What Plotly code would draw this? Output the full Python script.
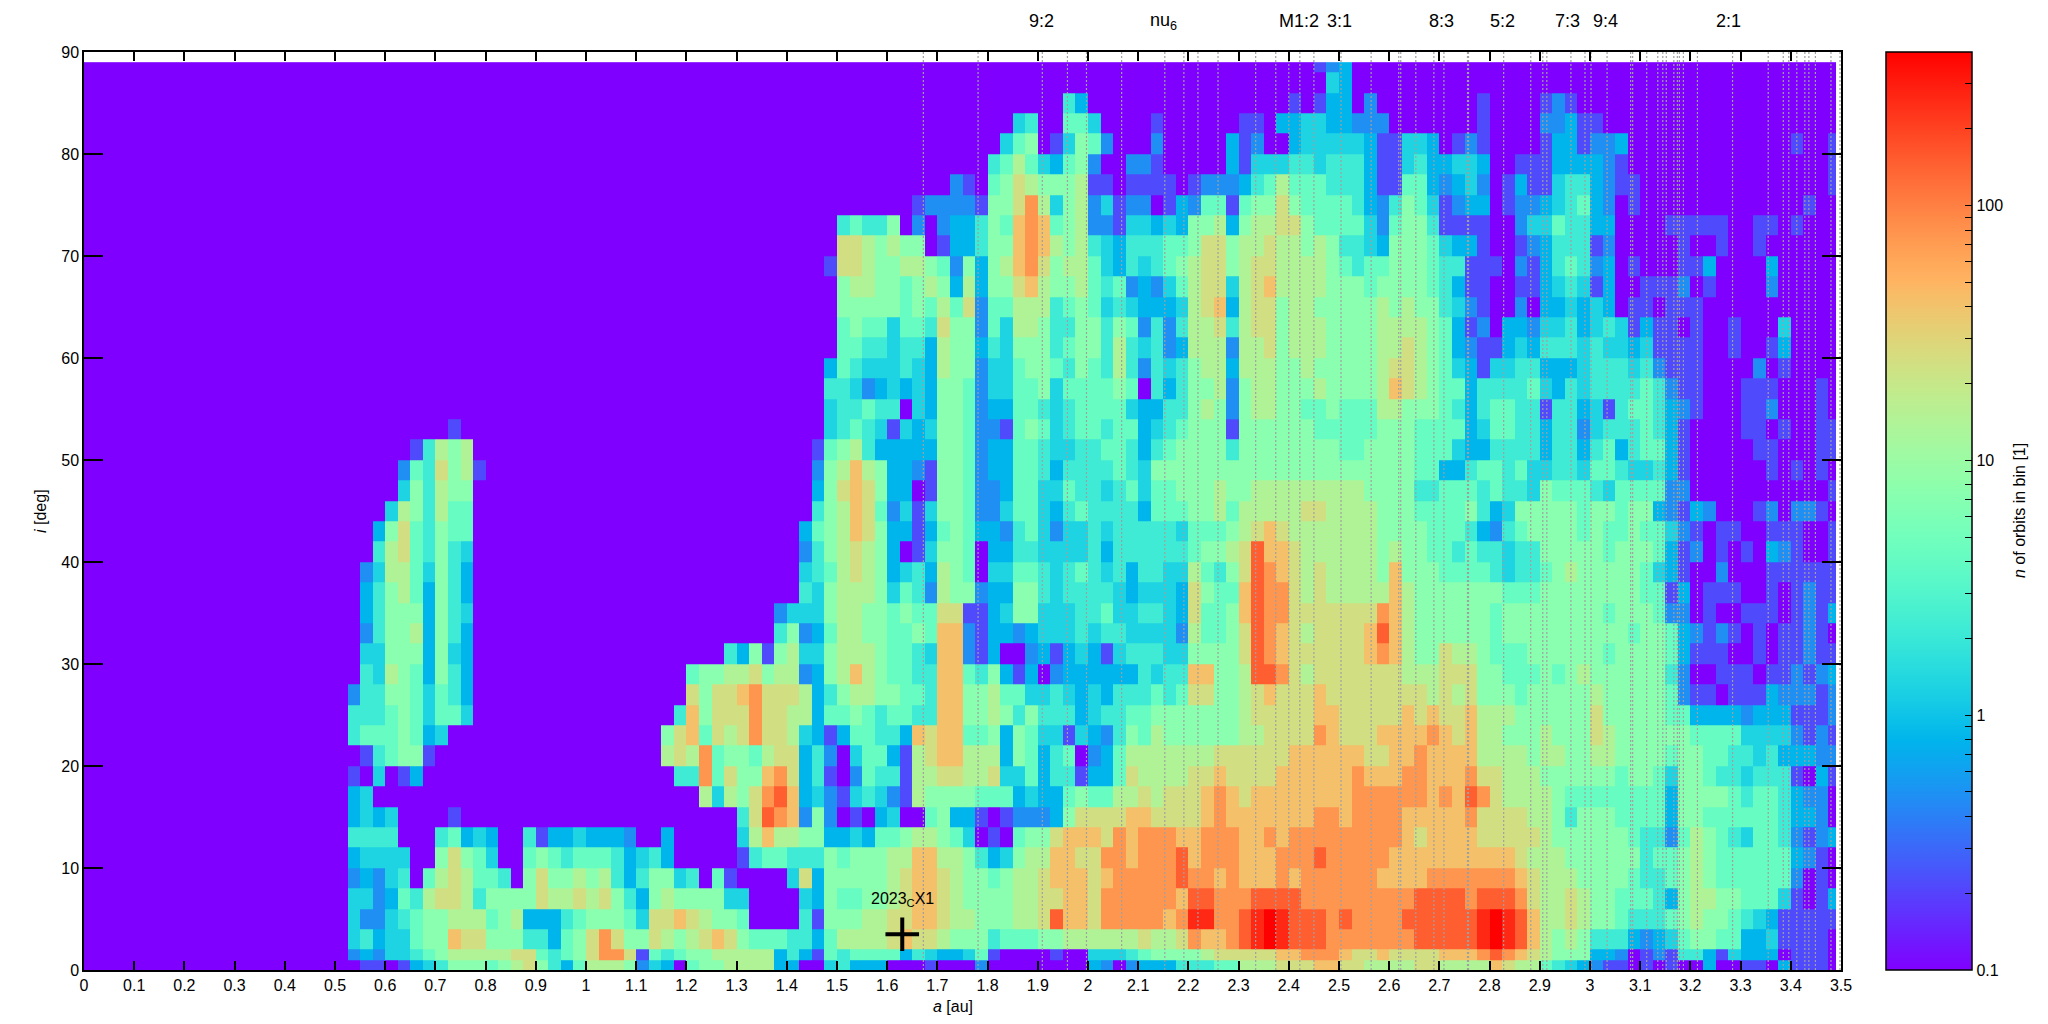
import math
import plotly.graph_objects as go

# Each row: 30 groups of 4 cells (0.025 au per cell) from a=0.5 to a=3.5, "." = empty group.
# Characters are count levels, see LEVEL_COUNTS. Rows run from the top of the chart down.
LEVEL_COUNTS = {"0": 0.1, "1": 0.22, "2": 0.48, "3": 0.8, "4": 1.3, "5": 2.2, "6": 4.2, "7": 7.4,
                "8": 14, "9": 24, "a": 42, "b": 76, "c": 148, "d": 263, "e": 400}
INCLINATION_EDGES = [0, 1, 2] + list(range(4, 90, 2)) + [89]
ROWS_TOP_DOWN = [
". . . . . . . . . . . . . . . . . . . 0012 3000 . . . . . . . . .",
". . . . . . . . . . . . . . . . . . . 0004 3000 . . . . . . . . .",
". . . . . . . . . . . . . . 0053 . . . . 1013 3020 . 0001 . 1210 . . . . .",
". . . . . . . . . . . . . 0045 0066 4000 0100 . 1103 3443 3222 . 0001 . 2231 1000 . . . .",
". . . . . . . . . . . . . 0467 0147 6200 0200 0003 1200 3444 4431 1443 0121 . 1331 2230 . . . 1001",
". . . . . . . . . . . . . 5686 4367 2002 2100 0003 1444 5545 5531 1453 3443 0011 1333 3210 . . . 0001",
". . . . . . . . . . . . 0210 6798 7778 1101 1110 1222 3568 6665 5531 1663 2342 0131 1455 3211 . . . 0001",
". . . . . . . . . . . 0012 2221 779b 8478 2412 2013 2661 6779 7666 6532 5764 1233 0122 3456 3201 . . . 0100",
". . . . . . . . . . 5655 7020 2335 76ab a678 2214 4343 7783 7889 9766 6642 6775 1111 0024 4655 3300 0011 1110 0110 1000",
". . . . . . . . . . 9987 8770 1335 77ab a878 5435 5566 7997 8898 8787 5543 7776 4331 0012 3555 1200 0001 0010 0100 .",
". . . . . . . . . 0001 9987 7887 6273 78ab 9788 6435 4567 8997 8998 8887 6566 7776 5511 1021 3565 2301 0001 1300 0030 .",
". . . . . . . . . . 7887 7678 7383 779a 8778 6562 3246 8994 89a8 8887 7767 7776 5311 0011 3454 1300 1112 0100 0020 .",
". . . . . . . . . . 7777 7676 8692 6688 8567 6454 3334 89a3 8997 8877 7778 7877 5421 0020 3343 4301 1011 1000 . .",
". . . . . . . . . . 6766 4665 9772 6488 7557 7576 2525 8895 8997 8887 7778 8887 6312 0332 4453 4541 3110 1001 0004 .",
". . . . . . . . . . 6655 4553 8773 5477 7567 7585 4523 8882 8897 8887 7778 8987 6321 1343 5554 5443 4111 1001 0013 .",
". . . . . . . . . 0003 6544 4543 8772 4467 7657 6585 2545 7883 8887 7877 7778 9987 6431 4455 3334 5554 5211 1000 0201 .",
". . . . . . . . . 0005 5423 4343 7762 4466 7466 6676 0535 7782 7887 7787 7778 a987 6635 5556 4354 5555 6521 1000 1110 0010",
". . . . . . . . . 0004 5565 5043 7762 3366 5456 6664 3355 7872 7887 7667 6668 8777 6535 6655 1553 4156 6532 1000 1120 0010",
". . 0100 . . . . . . 0004 5654 1434 7762 2167 6456 6566 3456 7771 7777 7766 6667 7766 6634 6655 3552 4555 6531 . 1101 0011",
". 0015 8780 . . . . . . 0016 7853 3333 7762 3366 5445 5665 3567 7775 7777 7777 6677 7766 6433 5555 3553 5635 6631 . 0110 0011",
". 0265 9781 . . . . . . 0027 8a87 3321 7762 3366 5355 5565 4777 7777 7777 7777 7777 7766 3356 6564 4554 6654 4531 . 0010 1010",
". 0475 8770 . . . . . . 0037 9a97 3301 7762 2366 4465 5456 4667 7787 7888 8888 8877 7755 6665 6554 7666 5466 6622 . . 0001",
". 4875 8660 . . . . . . 0057 8a96 2414 7762 2466 4356 5555 3666 7786 8888 8998 8887 7766 6675 3477 7776 7767 7321 3200 0120 2210",
"0003 7965 7660 . . . . . . 0367 8a97 3313 6763 3256 4244 5455 5554 6667 89a9 8888 8887 7776 6653 2567 7776 7667 6642 1011 0011 1001",
"0005 8965 7540 . . . . . . 0257 8987 3014 7760 3355 4444 5355 5555 6778 9caa 9888 8887 8776 6565 5455 7777 7677 7631 2010 1032 1001",
"0024 8864 7530 . . . . . . 0456 8987 3453 8760 4466 5456 5453 5544 8657 9cba 9898 8887 a777 6666 5455 6787 7777 6431 0020 0011 1111",
"0035 7863 7530 . . . . . . 0547 8887 4652 8772 3377 5455 5543 4443 9766 acbb 9898 8888 a877 7777 7666 7777 7777 6613 0111 0010 1211",
"0035 7773 7540 . . . . . 0002 4447 8877 6766 9911 3477 4445 5644 5543 9667 acbb 9999 999b a877 7777 6777 7777 7677 7622 0100 1110 1213",
"0025 7783 7530 . . . . . 0005 7236 8877 6676 aa21 3323 4445 4554 4442 8667 9cba 9899 99ac a877 7777 6777 7777 7776 7763 2121 0101 1210",
"0044 7773 7430 . . . . 0005 3717 8447 8887 6654 aa21 3002 3134 3145 5544 7777 9cba 9999 99ab a877 9887 6667 7777 7677 7763 1110 0101 1211",
"0054 8763 7530 . . . . 6778 8978 8237 8a87 6655 aa65 7313 0233 3333 5455 aa77 8ccb 9899 9999 9888 9997 7666 7678 7777 7752 0011 1011 2123",
"0255 7764 6530 . . . . 9799 ab99 9835 7887 7665 aa77 8664 4543 4355 5656 9977 89a9 99a9 9999 9998 9897 7767 7777 8777 7762 1101 1132 2212",
"0555 6764 6640 . . . 0005 a799 9b99 8836 6765 6655 aa77 8757 5553 4556 6777 7777 8999 99aa 9999 9a9a 99a8 8877 7777 9777 7766 3333 2333 1112",
"0566 6763 4000 . . . 0079 a698 9b99 8431 3665 53a9 aa66 7376 4414 3257 6877 7777 8899 99ba 999a aaab a9a8 8777 8777 9877 7777 6666 4444 2121",
"0015 6771 . . . . 0089 8b67 7689 9352 0466 3189 aa88 8376 3560 2368 8888 8899 9999 aaaa aa99 aaba aaa8 8887 8877 8877 7767 7665 5453 3322",
"0104 0130 . . . . 0005 5b69 77ab 9351 0265 5188 9988 9446 3551 3369 8888 99a9 999a aaaa abaa abba aab9 9888 7777 7767 7647 7655 4555 1031",
"0340 . . . . . . 0848 79bc a342 1454 2187 7776 6634 3367 6688 9899 9aba 9aaa aaaa abbb bbba bacb 9888 8766 6666 6637 7776 5665 3220",
"0343 4000 0100 . . . . . 59cb a272 0103 4006 7331 0122 2379 999a a999 9aba aaaa aabb abbb baaa aab9 9998 8757 7766 6637 7666 6665 3320",
"0555 5000 5634 3005 1334 3332 0030 . 48a8 8773 3436 6788 7640 1067 79aa a9ba bbba abbb aaba bbbb bbbb ba9a aaa9 9999 8777 7776 5526 8765 4665 2123",
"0344 4400 7976 4006 7656 6653 4530 . 1566 5557 6777 88aa 8875 3478 8aa9 9bba bbbc abbb aaab bbcb bbbb aaaa aaaa aa98 8877 7777 5667 8766 6666 3210",
"0232 4506 8986 6507 9778 7853 5774 5061 . 4937 7777 89aa 9877 6788 9aaa 9abb bbbc bbab aaab abbb bbba aaab bbbb bba9 8887 7776 5567 8766 6666 2010",
"0442 3658 9985 7777 9889 8975 3787 7774 4000 0437 6677 89aa 9877 7788 99aa 9bbb bbba ccbb bccc cbbb bbbb bbcc ccbc ccb9 8898 7766 6537 8877 6664 1013",
"0422 4567 7888 6783 3356 7776 499a 9877 6000 0517 7788 99aa 9887 7788 9caa 9bbb bbab ddbb cded cccb cbbb bccc cccd edca 8898 7765 5567 8776 5431 1111",
"0453 4467 7a99 7775 5367 9b97 7987 89a9 7666 5536 8888 9a99 8777 5666 7788 8888 9889 baab cded cccb bbbb bbcc cccd edca 8787 5553 2346 7766 3341 1110",
"0232 4456 7888 8899 6567 9bb9 1656 7788 8883 5316 5666 6354 3346 1000 0100 4445 6777 7899 999a abbb a99a 9999 aaab cba9 8777 3320 1215 5314 3330 1110",
"0011 0134 5777 6789 7536 8887 2430 6778 8883 3004 5333 0001 0002 . . 3202 3335 5566 8889 99aa 9988 8899 8888 a988 6543 2110 1010 0300 1103 1110",
]

RESONANCE_A = [1.672, 1.781, 1.909, 1.959, 1.997, 2.067, 2.153, 2.191, 2.219, 2.259, 2.334, 2.374,
               2.400, 2.422, 2.450, 2.504, 2.564, 2.619, 2.623, 2.653, 2.689, 2.709, 2.756, 2.758,
               2.828, 2.882, 2.906, 2.914, 2.962, 2.990, 3.002, 3.034, 3.081, 3.085, 3.113, 3.135,
               3.145, 3.152, 3.167, 3.174, 3.178, 3.186, 3.214, 3.284, 3.355, 3.385, 3.396, 3.412,
               3.428, 3.436, 3.449, 3.480, 3.498]
TOP_LABELS = ["9:2", "nu<sub>6</sub>", "M1:2", "3:1", "8:3", "5:2", "7:3", "9:4", "2:1"]
TOP_LABEL_A = [1.907, 2.15, 2.42, 2.50, 2.705, 2.825, 2.956, 3.03, 3.275]
OBJECT_NAME = "2023<sub>C</sub>X1"
OBJECT_A = [1.63]
OBJECT_I = [3.5]
X_TICKS = [round(k * 0.1, 1) for k in range(36)]
X_LABELS = [("%.1f" % v).rstrip("0").rstrip(".") if v else "0" for v in X_TICKS]
CBAR_MAJOR = [0.1, 1, 10, 100]
CBAR_MINOR = [f * d for d in (0.1, 1, 10) for f in range(2, 10)] + [100 * f for f in (2, 3, 4)]

FONT = "Liberation Sans"


def decode(row):
    cells = "".join("0000" if g == "." else g for g in row.split())
    return (cells + "0" * 120)[:120]


z = []
for row in reversed(ROWS_TOP_DOWN):
    cells = decode(row)
    z.append([-1.0] + [math.log10(LEVEL_COUNTS[c]) for c in cells])

x_edges = [0.0] + [0.5 + 0.025 * k for k in range(120)] + [3.49]


def rainbow(t):
    r = min(1, abs(2 * t - 0.5))
    g = math.sin(math.pi * t)
    b = math.cos(math.pi * t / 2)
    return "rgb(%d,%d,%d)" % (round(255 * r), round(255 * max(g, 0)), round(255 * max(b, 0)))


colorscale = [[k / 64, rainbow(k / 64)] for k in range(65)]
tickvals = [math.log10(v) for v in CBAR_MAJOR + CBAR_MINOR]
ticktext = ["0.1", "1", "10", "100"] + [""] * len(CBAR_MINOR)

# the page body adds an 8 px margin, so the figure is laid out 8 px up and left
L, R, T, B = 76, 1833, 44, 962
W, H = 2040, 1016

fig = go.Figure()
fig.add_trace(go.Heatmap(
    x=x_edges, y=INCLINATION_EDGES, z=z, zmin=-1, zmax=math.log10(400), colorscale=colorscale,
    hoverinfo="skip",
    colorbar=dict(
        x=(1878 - L) / (R - L), xanchor="left", xpad=0, y=0.5, yanchor="middle", ypad=0,
        len=1, lenmode="fraction", thickness=86, thicknessmode="pixels",
        outlinecolor="black", outlinewidth=1.5, ticks="inside", ticklen=7, tickcolor="black", tickwidth=1,
        tickmode="array", tickvals=tickvals, ticktext=ticktext,
        tickfont=dict(family=FONT, size=16, color="black"),
    ),
))

line_x, line_y = [], []
for a in RESONANCE_A:
    line_x += [a, a, None]
    line_y += [0, 90, None]
fig.add_trace(go.Scatter(x=line_x, y=line_y, mode="lines", hoverinfo="skip", showlegend=False,
                         line=dict(color="#a0a0a0", width=1.2, dash="2px,2px")))
fig.add_trace(go.Scatter(x=OBJECT_A, y=OBJECT_I, mode="markers", hoverinfo="skip", showlegend=False,
                         marker=dict(symbol="cross-thin", size=24, color="black",
                                     line=dict(color="black", width=4))))

annotations = [dict(x=a, y=(B - 13) / (B - T), xref="x", yref="paper", text=t, showarrow=False,
                    font=dict(family=FONT, size=18, color="black"), xanchor="center", yanchor="middle")
               for a, t in zip(TOP_LABEL_A, TOP_LABELS)]
annotations.append(dict(x=1.63, y=6.9, xref="x", yref="y", text=OBJECT_NAME, showarrow=False,
                        xanchor="center", yanchor="middle", font=dict(family=FONT, size=16, color="black")))
annotations.append(dict(x=(945 - L) / (R - L), y=(B - 999) / (B - T), xref="paper", yref="paper",
                        xanchor="center", yanchor="middle",
                        text="<i>a</i> [au]", showarrow=False, font=dict(family=FONT, size=16, color="black")))
annotations.append(dict(x=(32 - L) / (R - L), y=0.5, xref="paper", yref="paper", textangle=-90,
                        xanchor="center", yanchor="middle",
                        text="<i>i</i> [deg]", showarrow=False, font=dict(family=FONT, size=16, color="black")))
annotations.append(dict(x=(2011 - L) / (R - L), y=0.5, xref="paper", yref="paper", textangle=-90,
                        xanchor="center", yanchor="middle",
                        text="<i>n</i> of orbits in bin [1]", showarrow=False,
                        font=dict(family=FONT, size=16, color="black")))

fig.update_layout(
    width=W, height=H, margin=dict(l=L, r=W - R, t=T, b=H - B, pad=0),
    paper_bgcolor="white", plot_bgcolor="white", showlegend=False,
    font=dict(family=FONT, size=16, color="black"), annotations=annotations,
    xaxis=dict(range=[0, 3.5], tickmode="array", tickvals=X_TICKS, ticktext=X_LABELS, ticks="inside",
               ticklen=9, tickwidth=1.5, tickcolor="black", showgrid=False, zeroline=False, showline=True,
               linecolor="black", linewidth=1.5, mirror="ticks"),
    yaxis=dict(range=[0, 90], dtick=10, ticks="inside", ticklen=19, tickwidth=1.5, tickcolor="black",
               showgrid=False, zeroline=False, showline=True, linecolor="black", linewidth=1.5, mirror="ticks"),
)
fig.write_html("out.html")
